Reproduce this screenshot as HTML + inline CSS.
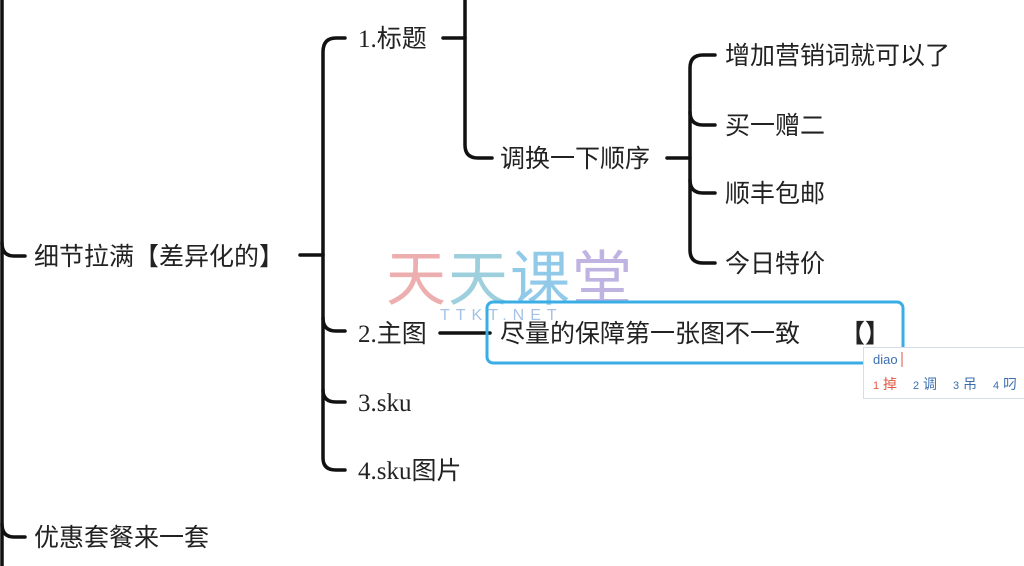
<!DOCTYPE html>
<html><head><meta charset="utf-8"><style>
html,body{margin:0;padding:0;background:#fff;width:1024px;height:566px;overflow:hidden}
svg{display:block}
.t{font-family:"Liberation Sans","Noto Sans CJK SC",sans-serif;font-size:25px;fill:#222}
.s{font-family:"Liberation Serif","Noto Sans CJK SC",serif;font-size:25px;fill:#222}
</style></head><body>
<svg width="1024" height="566" viewBox="0 0 1024 566">
<g fill="none" stroke="#111" stroke-width="3.5" stroke-linecap="round">
<!-- left root -->
<path d="M2 0 V566"/>
<path d="M2 243 Q2 256 14 256 H25"/>
<path d="M2 524 Q2 537 14 537 H25"/>
<!-- level 1 -->
<path d="M300 255 H323"/>
<path d="M345 38 H336 Q323 38 323 52 V458 Q323 470 336 470 H345"/>
<path d="M323 318 Q323 331 336 331 H345"/>
<path d="M323 390 Q323 402 336 402 H345"/>
<!-- 1.标题 -->
<path d="M443 38 H465"/>
<path d="M465 0 V145 Q465 158 478 158 H492"/>
<!-- 调换 -->
<path d="M667 158 H690"/>
<path d="M715 55 H703 Q690 55 690 68 V250 Q690 263 703 263 H715"/>
<path d="M690 112 Q690 125 703 125 H715"/>
<path d="M690 180 Q690 193 703 193 H715"/>
<!-- 2.主图 -->
<path d="M440 333 H490"/>
</g>
<text class="t" x="34" y="265">细节拉满【差异化的】</text>
<text class="t" x="34" y="546">优惠套餐来一套</text>
<text class="s" x="358" y="47">1.标题</text>
<text class="s" x="358" y="342">2.主图</text>
<text class="s" x="358" y="411">3.sku</text>
<text class="s" x="358" y="479">4.sku图片</text>
<text class="t" x="500" y="167">调换一下顺序</text>
<text class="t" x="725" y="64">增加营销词就可以了</text>
<text class="t" x="725" y="134">买一赠二</text>
<text class="t" x="725" y="202">顺丰包邮</text>
<text class="t" x="725" y="272">今日特价</text>
<!-- watermark -->
<text x="386" y="300" font-family="Liberation Sans,'Noto Sans CJK SC',sans-serif" font-size="60" fill="#e9a0a0" opacity="0.85">天</text>
<text x="448" y="300" font-family="Liberation Sans,'Noto Sans CJK SC',sans-serif" font-size="60" fill="#8cc7d6" opacity="0.85">天</text>
<text x="510" y="300" font-family="Liberation Sans,'Noto Sans CJK SC',sans-serif" font-size="60" fill="#7ec0e6" opacity="0.85">课</text>
<text x="572" y="300" font-family="Liberation Sans,'Noto Sans CJK SC',sans-serif" font-size="60" fill="#b4a8dc" opacity="0.85">堂</text>
<text x="440" y="320" font-family="Liberation Sans,sans-serif" font-size="16" fill="#8fb4e0" opacity="0.8" letter-spacing="6">TTKT.NET</text>
<!-- edit box -->
<rect x="487" y="302" width="416" height="61" rx="6" fill="none" stroke="#3aaee4" stroke-width="3"/>
<text class="t" x="500" y="342">尽量的保障第一张图不一致</text>
<text class="t" x="840" y="342" font-weight="bold">【】</text>
<!-- IME -->
<rect x="863.5" y="347.5" width="170" height="51" fill="#fff" stroke="#d6dde8"/>
<text x="873" y="364" font-family="Liberation Sans,sans-serif" font-size="13" fill="#3b6fb0">diao</text>
<line x1="902" y1="352" x2="902" y2="367" stroke="#e05040" stroke-width="1"/>
<text x="873" y="389" font-family="Liberation Sans,'Noto Sans CJK SC',sans-serif" font-size="14" fill="#e05a40"><tspan font-size="11">1</tspan> 掉</text>
<text x="913" y="389" font-family="Liberation Sans,'Noto Sans CJK SC',sans-serif" font-size="14" fill="#3b6fb0"><tspan font-size="11">2</tspan> 调</text>
<text x="953" y="389" font-family="Liberation Sans,'Noto Sans CJK SC',sans-serif" font-size="14" fill="#3b6fb0"><tspan font-size="11">3</tspan> 吊</text>
<text x="993" y="389" font-family="Liberation Sans,'Noto Sans CJK SC',sans-serif" font-size="14" fill="#3b6fb0"><tspan font-size="11">4</tspan> 叼</text>
</svg>
</body></html>
